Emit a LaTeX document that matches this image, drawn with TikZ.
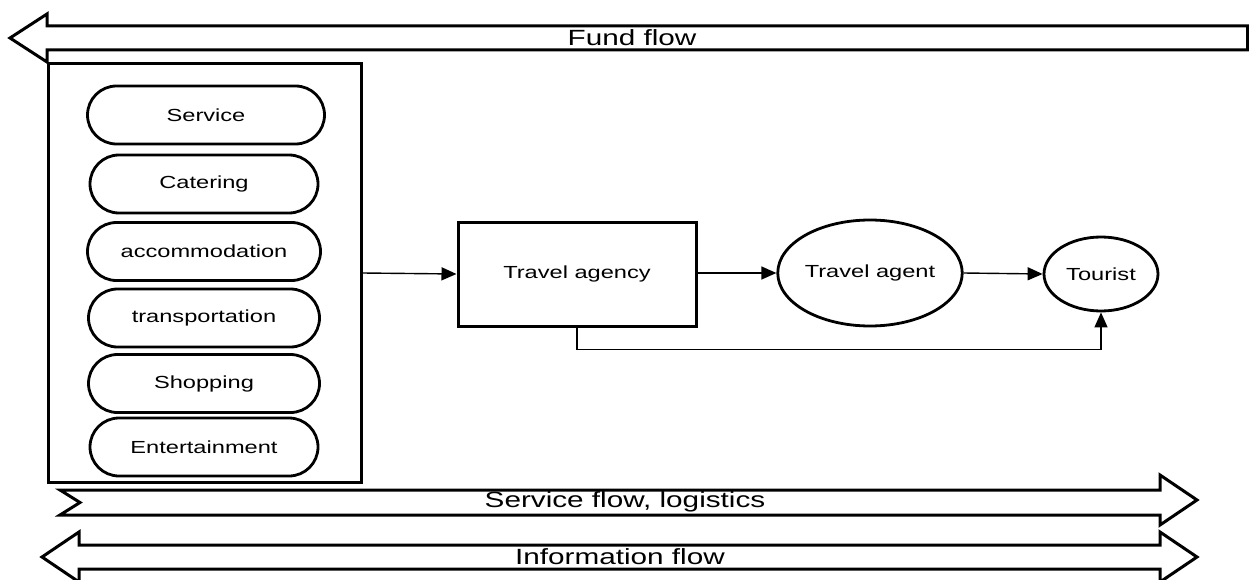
\documentclass[tikz,border=0pt]{standalone}
\usepackage{fontspec}
\setmainfont{Liberation Sans}[FakeStretch=1.35]
\usetikzlibrary{arrows.meta,shapes.geometric,shapes.misc}
\begin{document}
\begin{tikzpicture}[x=1pt,y=-1pt,
  flowarrow/.style={draw=black,line width=3pt,line join=miter,fill=white},
  flowlabel/.style={inner sep=0pt,font=\fontsize{22}{24}\selectfont},
  pill/.style={draw=black,line width=2.8pt,rounded rectangle,minimum height=58pt,inner sep=0pt,font=\fontsize{17.5}{20}\selectfont},
  boxnode/.style={draw=black,line width=3pt,rectangle,inner sep=0pt,font=\fontsize{17.5}{20}\selectfont},
  ellnode/.style={draw=black,line width=2.8pt,ellipse,inner sep=0pt,font=\fontsize{17.5}{20}\selectfont},
  conn/.style={draw=black,line width=1.4pt,-{Triangle[length=15pt,width=13pt]}}]
\useasboundingbox (0,0) rectangle (1249,580);
% Fund flow (left arrow)
\draw[flowarrow] (1247.5,26) -- (47,26) -- (47,14) -- (10,38) -- (47,62) -- (47,50) -- (1247.5,50) -- cycle;
\node[flowlabel] (fund) at (632,38) {Fund flow};
% Service flow (notched right arrow)
\draw[flowarrow] (60,490) -- (1160,490) -- (1160,475) -- (1197,500) -- (1160,525) -- (1160,515) -- (60,515) -- (80,502.5) -- cycle;
\node[flowlabel] (service) at (625,502) {Service flow, logistics};
% Information flow (double arrow)
\draw[flowarrow] (42,557) -- (79,532) -- (79,545) -- (1160,545) -- (1160,532) -- (1197,557) -- (1160,582) -- (1160,569) -- (79,569) -- (79,582) -- cycle;
\node[flowlabel] (info) at (620,557) {Information flow};
% Supplier container
\node[boxnode,minimum width=313pt,minimum height=418pt] (suppliers) at (204.5,273) {};
\node[pill,minimum width=237pt] (p1) at (206,115) {Service};
\node[pill,minimum width=228pt] (p2) at (204,184) {Catering};
\node[pill,minimum width=233pt] (p3) at (204,251.5) {accommodation};
\node[pill,minimum width=231pt] (p4) at (204,318) {transportation};
\node[pill,minimum width=231pt] (p5) at (204,383.5) {Shopping};
\node[pill,minimum width=228pt] (p6) at (204,447) {Entertainment};
% Chain
\node[boxnode,minimum width=238pt,minimum height=104pt] (agency) at (577,274) {Travel agency};
\node[ellnode,minimum width=164pt,minimum height=106pt] (agent) at (870,273) {Travel agent};
\node[ellnode,minimum width=114pt,minimum height=74pt] (tourist) at (1101,274) {Tourist};
\draw[conn] (suppliers.east) -- (agency.west);
\draw[conn] (agency.east |- agent.west) -- (agent.west);
\draw[conn] (agent.east) -- (tourist.west);
\draw[conn] (agency.south) -- ++(0,22) -| (tourist.south);
\end{tikzpicture}
\end{document}
